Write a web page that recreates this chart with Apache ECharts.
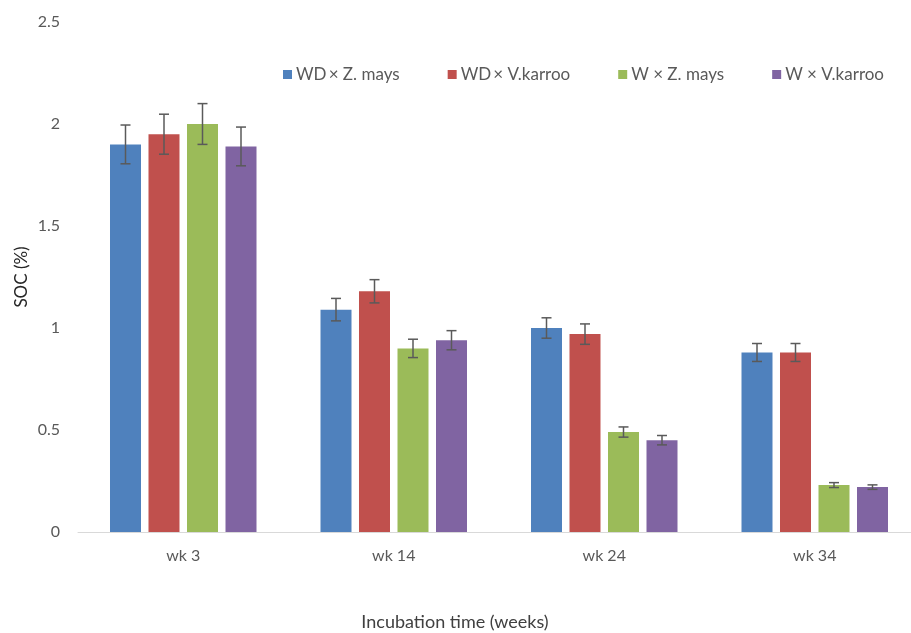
<!DOCTYPE html>
<html>
<head>
<meta charset="utf-8">
<script src="https://cdn.jsdelivr.net/npm/echarts@6/dist/echarts.min.js"></script>
<style>
  html, body { margin: 0; padding: 0; background: #fff; overflow: hidden; }
  #chart { width: 920px; height: 633px; }
</style>
</head>
<body>
<div id="chart"></div>
<script>
// Incubation weeks on the category axis
const categories = ['wk 3', 'wk 14', 'wk 24', 'wk 34'];

// Soil organic carbon (%) per treatment
const wdZmays   = [1.90, 1.09, 1.00, 0.88];
const wdVkarroo = [1.95, 1.18, 0.97, 0.88];
const wZmays    = [2.00, 0.90, 0.49, 0.23];
const wVkarroo  = [1.89, 0.94, 0.45, 0.22];

// Error (± half-length of each whisker)
const wdZmaysErr   = [0.095, 0.055, 0.050, 0.044];
const wdVkarrooErr = [0.098, 0.057, 0.050, 0.044];
const wZmaysErr    = [0.100, 0.045, 0.025, 0.012];
const wVkarrooErr  = [0.095, 0.047, 0.023, 0.011];

const seriesNames = ['WD\u2009\u00d7 Z. mays', 'WD\u2009\u00d7 V.karroo', 'W \u00d7 Z. mays', 'W \u00d7 V.karroo'];
const seriesColors = ['#4F81BD', '#C0504D', '#9BBB59', '#8064A2'];
const seriesValues = [wdZmays, wdVkarroo, wZmays, wVkarroo];
const seriesErrors = [wdZmaysErr, wdVkarrooErr, wZmaysErr, wVkarrooErr];

const BAR_W = 31;
const BAR_GAP_PX = 7.5;
const FONT = 'Lato, "Open Sans", sans-serif';
const TEXT_COLOR = '#595959';

const chart = echarts.init(document.getElementById('chart'), null, { renderer: 'canvas' });

const barSeries = seriesValues.map((vals, i) => ({
  name: seriesNames[i],
  type: 'bar',
  data: vals,
  barWidth: BAR_W,
  barGap: (BAR_GAP_PX / BAR_W * 100).toFixed(1) + '%',
  itemStyle: { color: seriesColors[i] },
  z: 2
}));

// Whiskers drawn over each bar, shifted to that bar's slot in the group
const errorSeries = seriesValues.map((vals, i) => ({
  name: seriesNames[i] + ' err',
  type: 'custom',
  z: 5,
  silent: true,
  data: vals.map((v, k) => [k, v - seriesErrors[i][k], v + seriesErrors[i][k]]),
  renderItem: function (params, api) {
    const k = api.value(0);
    const lo = api.coord([k, api.value(1)]);
    const hi = api.coord([k, api.value(2)]);
    const offset = (i - 1.5) * (BAR_W + BAR_GAP_PX);
    const x = lo[0] + offset;
    const cap = 5;
    const style = { stroke: '#5a5a5a', lineWidth: 1.5 };
    return {
      type: 'group',
      children: [
        { type: 'line', shape: { x1: x, y1: hi[1], x2: x, y2: lo[1] }, style: style },
        { type: 'line', shape: { x1: x - cap, y1: hi[1], x2: x + cap, y2: hi[1] }, style: style },
        { type: 'line', shape: { x1: x - cap, y1: lo[1], x2: x + cap, y2: lo[1] }, style: style }
      ]
    };
  }
}));

chart.setOption({
  animation: false,
  backgroundColor: '#ffffff',
  textStyle: { fontFamily: FONT },
  title: {
    text: 'Incubation time (weeks)',
    left: 450,
    textAlign: 'center',
    top: 608,
    textStyle: { fontFamily: FONT, fontSize: 18, fontWeight: 'normal', color: '#404040' }
  },
  legend: {
    data: seriesNames,
    left: 278,
    top: 61,
    itemWidth: 9,
    itemHeight: 9,
    itemGap: 48,
    icon: 'rect',
    textStyle: { fontFamily: FONT, fontSize: 17, color: TEXT_COLOR, padding: [0, 0, 0, -1] }
  },
  grid: { left: 78, top: 22, right: 0, bottom: 101, containLabel: false },
  xAxis: {
    type: 'category',
    data: categories,
    axisLine: { lineStyle: { color: '#d9d9d9', width: 1 } },
    axisTick: { show: false },
    axisLabel: { color: TEXT_COLOR, fontSize: 16, fontFamily: FONT, margin: 16 }
  },
  yAxis: {
    type: 'value',
    min: 0,
    max: 2.5,
    interval: 0.5,
    name: 'SOC (%)',
    nameLocation: 'middle',
    nameRotate: 90,
    nameGap: 48,
    nameMoveOverlap: false,
    nameTextStyle: { fontFamily: FONT, fontSize: 17, color: '#262626' },
    axisLine: { show: false },
    axisTick: { show: false },
    splitLine: { show: false },
    axisLabel: { color: TEXT_COLOR, fontSize: 16, fontFamily: FONT, margin: 18 }
  },
  series: barSeries.concat(errorSeries)
});
</script>
</body>
</html>
